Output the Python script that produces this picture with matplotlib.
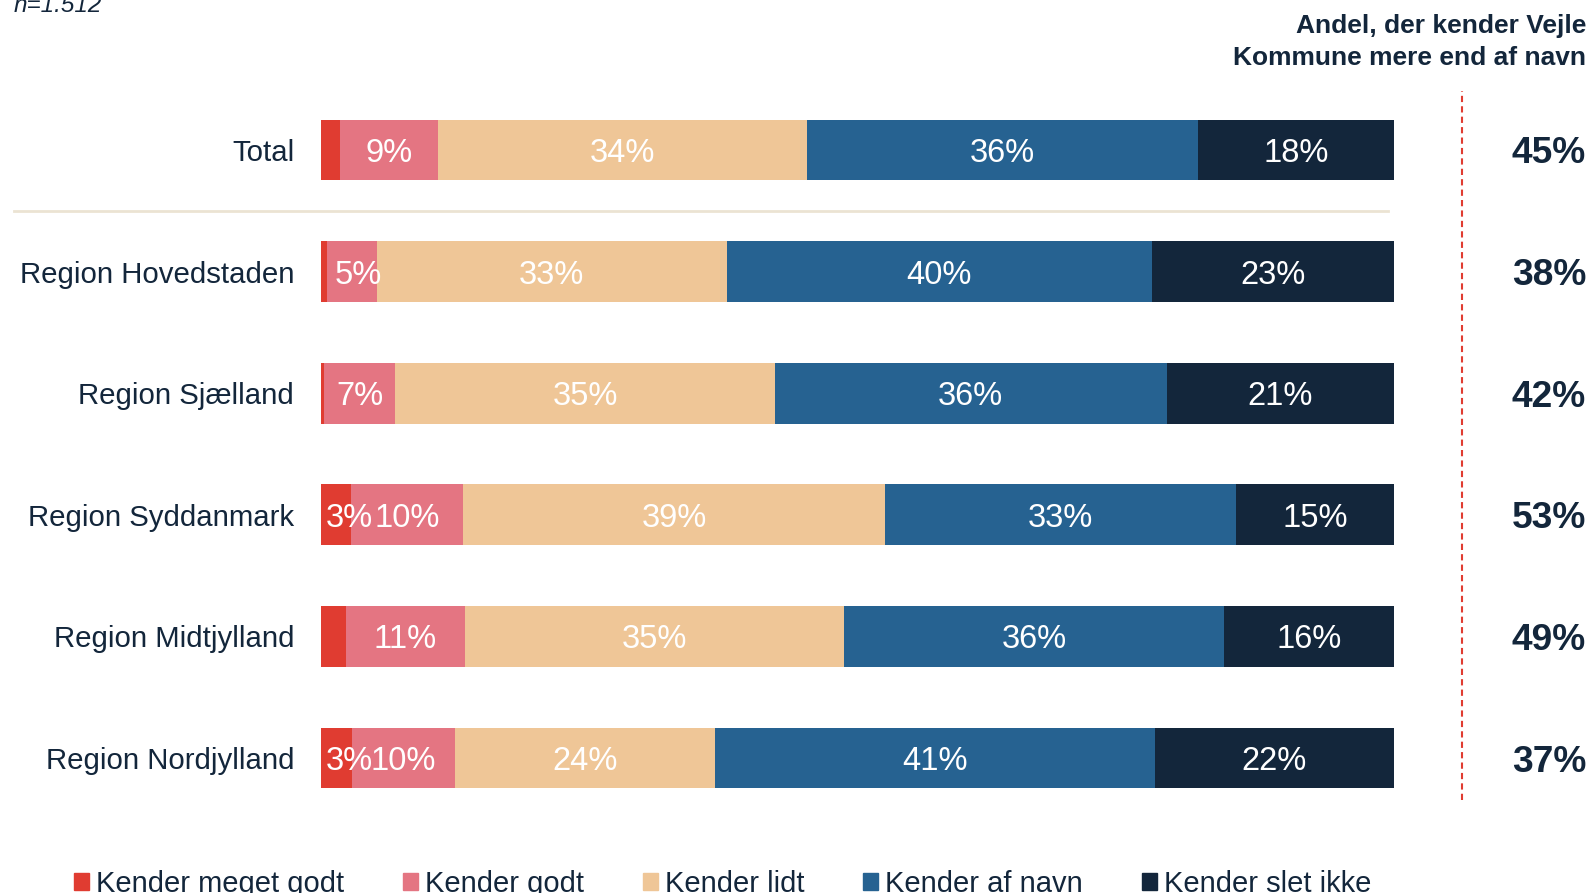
import numpy as np
import matplotlib.pyplot as plt
from matplotlib.patches import Patch

plt.rcParams['font.family'] = ['Liberation Sans', 'DejaVu Sans']

categories = ['Total', 'Region Hovedstaden', 'Region Sjælland', 'Region Syddanmark',
              'Region Midtjylland', 'Region Nordjylland']
series = ['Kender meget godt', 'Kender godt', 'Kender lidt', 'Kender af navn', 'Kender slet ikke']
meget_godt = [1.8, 0.6, 0.3, 2.8, 2.3, 2.9]
godt = [9.1, 4.6, 6.6, 10.4, 11.1, 9.6]
lidt = [34.4, 32.6, 35.4, 39.4, 35.3, 24.2]
af_navn = [36.4, 39.6, 36.5, 32.7, 35.5, 41.0]
slet_ikke = [18.3, 22.6, 21.2, 14.7, 15.8, 22.3]
andel = ['45%', '38%', '42%', '53%', '49%', '37%']

colors = ['#e03c31', '#e47582', '#efc697', '#266291', '#13263b']
text_col = '#13263b'

fig = plt.figure(figsize=(15.91, 8.93), dpi=100)
ax = fig.add_axes([321 / 1591, 1 - 818.8 / 893, 1073 / 1591, 729.6 / 893])

y = np.arange(len(categories))
left = np.zeros(len(categories))
for vals, col in zip([meget_godt, godt, lidt, af_navn, slet_ikke], colors):
    vals = np.array(vals)
    ax.barh(y, vals, left=left, height=0.5, color=col)
    for yi, l, v in zip(y, left, vals):
        if round(v) < 3:
            continue
        if v < 6:
            # small segments: label starts near the segment start
            ax.text(l + 0.15 * v, yi, f'{round(v)}%', ha='left', va='center_baseline',
                    color='white', fontsize=23.5)
        else:
            ax.text(l + v / 2, yi, f'{round(v)}%', ha='center', va='center_baseline',
                    color='white', fontsize=23.5)
    left += vals

ax.set_xlim(0, 100)
ax.set_ylim(len(categories) - 0.5, -0.5)
ax.axis('off')

for yi, c in zip(y, categories):
    ax.text(-0.025, yi, c, transform=ax.get_yaxis_transform(), ha='right',
            va='center_baseline', fontsize=21.2, color=text_col)
for yi, a in zip(y, andel):
    ax.text(1.179, yi, a, transform=ax.get_yaxis_transform(), ha='right',
            va='center_baseline', fontsize=26.7, fontweight='bold', color=text_col)

# separator under Total
ax.axhline(0.5, xmin=-0.286, xmax=0.994, color='#ebe3d3', lw=2, clip_on=False)
# red dashed divider
ax.plot([1.063, 1.063], [0.026, 0.9975], transform=ax.transAxes, clip_on=False,
        color='#e03c31', lw=1.5, ls=(0, (3, 2)))

fig.text(1586 / 1591, 1 - 42 / 893, 'Andel, der kender Vejle\nKommune mere end af navn',
         ha='right', va='center', multialignment='right', fontsize=19,
         fontweight='bold', color=text_col, linespacing=1.47)
fig.text(14 / 1591, 1 - 5 / 893, 'n=1.512', ha='left', va='center', fontsize=17.5,
         style='italic', color=text_col)

handles = [Patch(color=c) for c in colors]
fig.legend(handles, series, ncol=5, loc='center left', bbox_to_anchor=(74 / 1591, 1 - 884 / 893),
           frameon=False, fontsize=21, handlelength=0.52, handleheight=0.52,
           handletextpad=0.25, columnspacing=2.0, borderpad=0, borderaxespad=0,
           labelcolor=text_col)

fig.savefig('out.png', dpi=100)
